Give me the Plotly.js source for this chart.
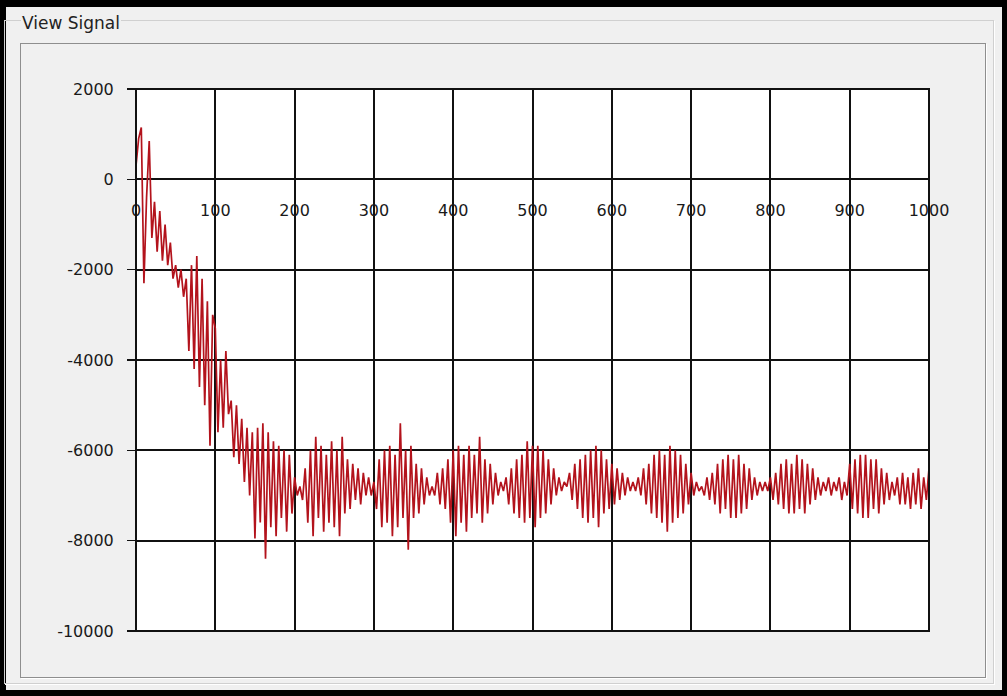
<!DOCTYPE html>
<html>
<head>
<meta charset="utf-8">
<script src="https://cdn.plot.ly/plotly-3.0.1.min.js"></script>
<style>
  html, body { margin: 0; padding: 0; background: #000; }
  body { width: 1007px; height: 696px; position: relative; overflow: hidden; font-family: "DejaVu Sans", sans-serif; }
  .window { position: absolute; left: 6px; top: 7px; width: 996px; height: 683px; background: #f0f0f0; }
  .group { position: absolute; left: -2px; top: 13px; width: 988px; height: 662px; border: 1px solid #d0d0d0; box-shadow: 1px 1px 0 #fff; }
  .legend { position: absolute; left: 15px; top: 6px; padding: 0 1px; background: #f0f0f0; color: #222; font-size: 17px; }
  .panel { position: absolute; left: 14px; top: 36px; width: 964px; height: 633px; border: 1px solid #8e8e8e; box-shadow: 1px 1px 0 #fff; }
  #plot { position: absolute; left: 0; top: 0; width: 1007px; height: 696px; }
</style>
</head>
<body>
<div class="window">
  <div class="group"></div>
  <div class="panel"></div>
  <div class="legend">View Signal</div>
</div>
<div id="plot"></div>
<script>
document.addEventListener('DOMContentLoaded', function() {
    // signal samples, 3 per 10 units (15 per row = 50 units)
    const sampleStart = 0;
    const sampleStep = 10 / 3;
    const signal = [
        300, 900, 1150, -2300, -400, 850, -1300, -500, -1600, -700, -1800, -1000, -1900, -1400, -2200,
        -1900, -2400, -2000, -2600, -2200, -3800, -1900, -4200, -1700, -4600, -2200, -5000, -2700, -5900, -3000,
        -3300, -5600, -4000, -5500, -3800, -5200, -4900, -6150, -5000, -6300, -5300, -6700, -5500, -7000, -5600,
        -7950, -5500, -7600, -5400, -8400, -5600, -7700, -5800, -7900, -5900, -7500, -6000, -7800, -6100, -7400,
        -6600, -7000, -6800, -7100, -6400, -7600, -6000, -7900, -5700, -7500, -5900, -7800, -6100, -7600, -5800,
        -7700, -6000, -7900, -5700, -7400, -6200, -7300, -6300, -7100, -6400, -7200, -6500, -7000, -6600, -7000,
        -6700, -7300, -6200, -7700, -6000, -7600, -5900, -7900, -6100, -7700, -5400, -7500, -6000, -8200, -5900,
        -7500, -6300, -7400, -6400, -7200, -6600, -7000, -6800, -7000, -6500, -7200, -6400, -7300, -6200, -7600,
        -6000, -7900, -5900, -7600, -6100, -7800, -5900, -7500, -6100, -7400, -5700, -7600, -6200, -7400, -6300,
        -7200, -6500, -7000, -6700, -6900, -6600, -7200, -6400, -7400, -6200, -7500, -6100, -7600, -5800, -7500,
        -5900, -7700, -5900, -7500, -6000, -7400, -6200, -7200, -6400, -7000, -6600, -6900, -6700, -6800, -6500,
        -7100, -6300, -7300, -6200, -7500, -6100, -7600, -6000, -7500, -5900, -7700, -6000, -7400, -6200, -7300,
        -6300, -7200, -6400, -7100, -6500, -7000, -6600, -6900, -6700, -6900, -6600, -7000, -6400, -7200, -6300,
        -7400, -6100, -7500, -6000, -7600, -6100, -7800, -5900, -7600, -6000, -7500, -6100, -7400, -6300, -7200,
        -6500, -7000, -6700, -6900, -6800, -7000, -6600, -7100, -6500, -7200, -6300, -7400, -6200, -7300, -6100,
        -7500, -6200, -7500, -6100, -7400, -6300, -7300, -6400, -7100, -6600, -7000, -6700, -6900, -6700, -6900,
        -6600, -7100, -6500, -7200, -6300, -7300, -6200, -7400, -6300, -7400, -6100, -7300, -6200, -7400, -6300,
        -7200, -6400, -7100, -6600, -7000, -6700, -6900, -6600, -7000, -6700, -6900, -6600, -7100, -6700, -7000,
        -6300, -7300, -6200, -7400, -6100, -7500, -6100, -7500, -6200, -7300, -6200, -7400, -6400, -7200, -6500,
        -7100, -6700, -7000, -6600, -7200, -6500, -7200, -6600, -7300, -6500, -7200, -6400, -7300, -6600, -7100,
        -6400
    ];
    const xTicks = [0, 100, 200, 300, 400, 500, 600, 700, 800, 900, 1000];
    const yTicks = [2000, 0, -2000, -4000, -6000, -8000, -10000];

    const xRange = [0, 1000];
    const yRange = [-10000, 2000];
    // x labels sit on the zero line
    const zeroPos = (0 - yRange[0]) / (yRange[1] - yRange[0]);

    const trace = {
        x0: sampleStart,
        dx: sampleStep,
        y: signal,
        type: 'scatter',
        mode: 'lines',
        line: { color: '#b3131c', width: 1.7 },
        hoverinfo: 'x+y'
    };

    const tickFont = { family: 'DejaVu Sans, sans-serif', size: 16, color: '#1a1a1a' };

    const layout = {
        width: 1007,
        height: 696,
        margin: { l: 136, r: 78, t: 89, b: 65, pad: 0 },
        paper_bgcolor: 'rgba(0,0,0,0)',
        plot_bgcolor: '#fff',
        showlegend: false,
        xaxis: {
            range: xRange,
            tickvals: xTicks,
            ticktext: xTicks.map(String),
            anchor: 'free',
            position: zeroPos,
            showline: false,
            zeroline: false,
            showgrid: true,
            gridcolor: '#111',
            gridwidth: 2,
            ticks: '',
            ticklabelstandoff: 20,
            tickfont: tickFont,
            automargin: false,
            fixedrange: true
        },
        yaxis: {
            range: yRange,
            tickvals: yTicks,
            ticktext: yTicks.map(String),
            showline: false,
            zeroline: false,
            showgrid: true,
            gridcolor: '#111',
            gridwidth: 2,
            ticks: 'outside',
            ticklen: 8,
            tickwidth: 1.5,
            tickcolor: '#111',
            ticklabelstandoff: 10,
            tickfont: tickFont,
            automargin: false,
            fixedrange: true
        },
        shapes: [{
            type: 'rect', xref: 'paper', yref: 'paper',
            x0: 0, x1: 1, y0: 0, y1: 1,
            line: { color: '#111', width: 2 }
        }]
    };

    Plotly.newPlot('plot', [trace], layout, { displayModeBar: false, staticPlot: true });
});
</script>
</body>
</html>
